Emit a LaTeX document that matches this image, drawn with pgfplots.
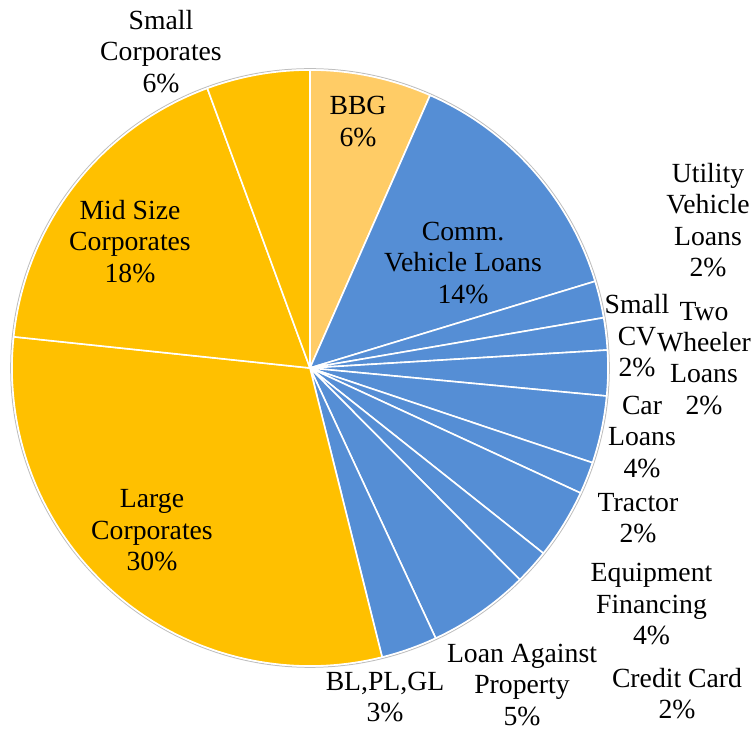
\documentclass[border=0pt]{standalone}
\usepackage{fontspec}
\setmainfont{Liberation Serif}
\usepackage{pgfplots}
\usepackage{pgfplotstable}
\pgfplotsset{compat=1.18}
\definecolor{bbg}{RGB}{255,204,102}
\definecolor{blu}{RGB}{85,142,213}
\definecolor{gld}{RGB}{255,192,0}
\tikzset{lbl/.style={font=\fontsize{27.8}{31.5}\selectfont, align=center, text=black, inner sep=0pt}}
% shares in percent, clockwise from 12 o'clock
\pgfplotstableread{
share col
6.60  bbg
13.70 blu
2.00  blu
1.74  blu
2.46  blu
3.65  blu
1.74  blu
3.79  blu
1.89  blu
5.50  blu
3.04  blu
30.56 gld
17.73 gld
5.60  gld
}\piedata
\pgfplotstablegetrowsof{\piedata}
\pgfmathtruncatemacro\nrows{\pgfplotsretval-1}
\gdef\sectors{}
\xdef\cumang{90}
\foreach \i in {0,...,\nrows}{%
  \pgfplotstablegetelem{\i}{share}\of\piedata\let\sh\pgfplotsretval
  \pgfplotstablegetelem{\i}{col}\of\piedata\let\cl\pgfplotsretval
  \pgfmathsetmacro\endang{\cumang-3.6*\sh}%
  \xdef\sectors{\unexpanded\expandafter{\sectors}\noexpand\filldraw[fill=\cl,draw=white,line width=1.6bp,line join=round] (axis cs:310,362) -- ++(\cumang:298bp) arc[start angle=\cumang, end angle=\endang, radius=298bp] -- cycle;}%
  \xdef\cumang{\endang}%
}
\begin{document}
\begin{tikzpicture}
\begin{axis}[
  x=1bp, y=1bp, xmin=0, xmax=754, ymin=0, ymax=730,
  hide axis, clip=false,
]
\path (axis cs:0,0) rectangle (axis cs:754,730);
\draw[black!25, line width=1bp] (axis cs:310,362) circle[radius=299.3bp];
\sectors
\node[lbl] at (axis cs:161,678.7) {Small\\Corporates\\6\%};
\node[lbl] at (axis cs:358,608.5) {BBG\\6\%};
\node[lbl] at (axis cs:463,467.3) {Comm.\\Vehicle Loans\\14\%};
\node[lbl] at (axis cs:708,509.8) {Utility\\Vehicle\\Loans\\2\%};
\node[lbl] at (axis cs:637,394.3) {Small\\CV\\2\%};
\node[lbl] at (axis cs:704,371.8) {Two\\Wheeler\\Loans\\2\%};
\node[lbl] at (axis cs:642,293.3) {Car\\Loans\\4\%};
\node[lbl] at (axis cs:638,212) {Tractor\\2\%};
\node[lbl] at (axis cs:651.5,125.7) {Equipment\\Financing\\4\%};
\node[lbl] at (axis cs:677,36.5) {Credit Card\\2\%};
\node[lbl] at (axis cs:522,45) {Loan Against\\Property\\5\%};
\node[lbl] at (axis cs:385,33) {BL,PL,GL\\3\%};
\node[lbl] at (axis cs:152,199.7) {Large\\Corporates\\30\%};
\node[lbl] at (axis cs:130,488.7) {Mid Size\\Corporates\\18\%};
\end{axis}
\end{tikzpicture}
\end{document}
